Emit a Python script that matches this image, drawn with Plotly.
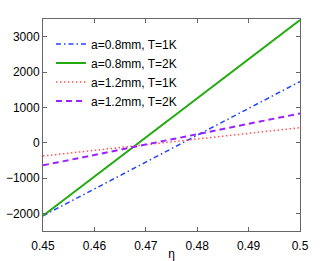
import plotly.graph_objects as go

eta = [0.45, 0.5]
names = ["a=0.8mm, T=1K", "a=0.8mm, T=2K", "a=1.2mm, T=1K", "a=1.2mm, T=2K"]
values = {
    "a=0.8mm, T=1K": [-2070, 1730],
    "a=0.8mm, T=2K": [-2070, 3470],
    "a=1.2mm, T=1K": [-378, 424],
    "a=1.2mm, T=2K": [-641, 827],
}
colors = ["#2244ff", "#22aa11", "#ff5555", "#9922ff"]
dashes = ["5px,3px,1.5px,3px", "solid", "1.5px,2.5px", "6px,4px"]
widths = [1.5, 2, 1.5, 2]

fig = go.Figure()
for n, c, d, w in zip(names, colors, dashes, widths):
    fig.add_trace(go.Scatter(x=eta, y=values[n], mode="lines", name=n,
                             line=dict(color=c, dash=d, width=w)))

axis_common = dict(showgrid=False, zeroline=False, showline=True, mirror="allticks",
                   linecolor="#666666", linewidth=1, ticks="inside", ticklen=4,
                   tickcolor="#666666", tickfont=dict(size=12, color="black"),
                   automargin=False)
fig.update_xaxes(range=[0.45, 0.5], tickvals=[0.45, 0.46, 0.47, 0.48, 0.49, 0.5],
                 ticktext=["0.45", "0.46", "0.47", "0.48", "0.49", "0.5"],
                 ticklabelstandoff=4,
                 title=dict(text="η", font=dict(size=12, color="black"), standoff=2),
                 **axis_common)
fig.update_yaxes(range=[-2500, 3500], tickvals=[-2000, -1000, 0, 1000, 2000, 3000],
                 ticktext=["−2000", "−1000", "0", "1000", "2000", "3000"],
                 **axis_common)
fig.update_layout(
    width=332, height=261,
    margin=dict(l=43, r=32, t=19, b=30),
    paper_bgcolor="white", plot_bgcolor="white",
    font=dict(family="Liberation Sans, Arial, sans-serif", size=12, color="black"),
    showlegend=True,
    legend=dict(x=0.031, y=0.95, xanchor="left", yanchor="top",
                bgcolor="rgba(0,0,0,0)", font=dict(size=12),
                tracegroupgap=0, itemwidth=30),
)
fig.write_html("out.html", config={"displayModeBar": False},
               post_script="document.body.style.margin='0';")
